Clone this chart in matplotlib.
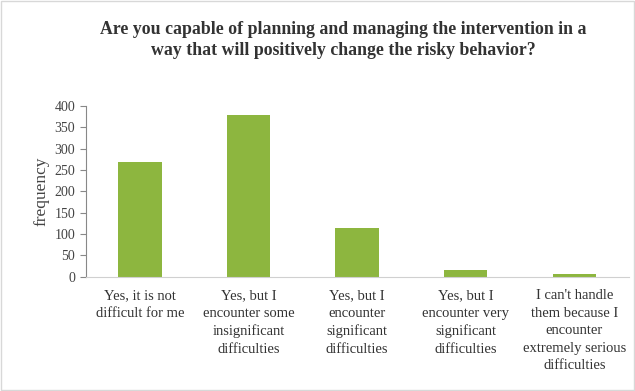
import matplotlib.pyplot as plt

# Survey answers and counts
categories = [
    "Yes, it is not\ndifficult for me",
    "Yes, but I\nencounter some\ninsignificant\ndifficulties",
    "Yes, but I\nencounter\nsignificant\ndifficulties",
    "Yes, but I\nencounter very\nsignificant\ndifficulties",
    "I can't handle\nthem because I\nencounter\nextremely serious\ndifficulties",
]
counts = [269, 379, 115, 16, 7]
yticks = [0, 50, 100, 150, 200, 250, 300, 350, 400]

plt.rcParams['font.family'] = ['Liberation Serif', 'DejaVu Serif']

fig = plt.figure(figsize=(6.35, 3.91), dpi=100)
ax = fig.add_axes([0.135, 0.292, 0.855, 0.437])

ax.bar(range(len(counts)), counts, width=0.4, color='#8DB63F')
ax.set_xlim(-0.5, len(counts) - 0.5)
ax.set_ylim(0, 400)
ax.set_yticks(yticks)
ax.set_xticks(range(len(categories)))
ax.set_xticklabels(categories, fontsize=10.5, color='#333333', linespacing=1.45)
ax.tick_params(axis='x', length=0, pad=9)
ax.tick_params(axis='y', labelsize=10, labelcolor='#444444', color='#888888', length=4)
ax.set_ylabel('frequency', fontsize=12.5, color='#444444', labelpad=4)

for side in ['top', 'right']:
    ax.spines[side].set_visible(False)
ax.spines['left'].set_color('#888888')
ax.spines['bottom'].set_color('#d0d0d0')

fig.text(0.54, 0.897, "Are you capable of planning and managing the intervention in a\n"
         "way that will positively change the risky behavior?",
         ha='center', va='center', fontsize=12.8, fontweight='bold', color='#333333',
         linespacing=1.3)

# light frame round the chart area
fig.patches.append(plt.Rectangle((0.002, 0.002), 0.996, 0.996, transform=fig.transFigure,
                                 fill=False, edgecolor='#d8d8d8', linewidth=1))

fig.savefig('out.png', dpi=100)
